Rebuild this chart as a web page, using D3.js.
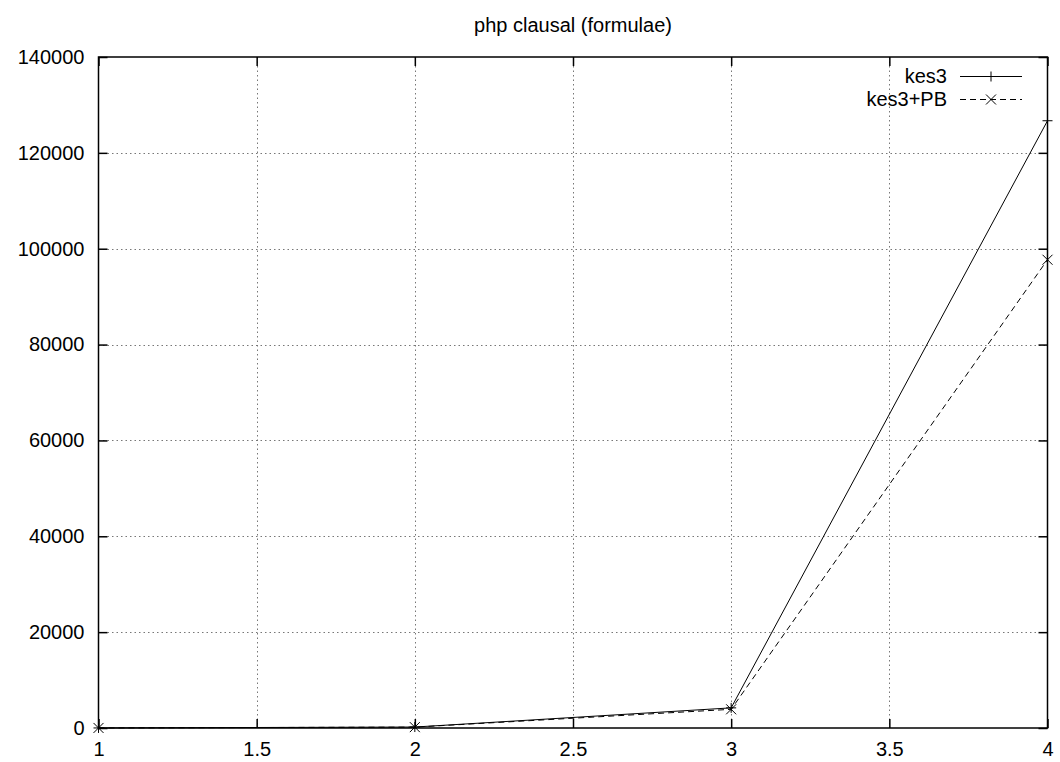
<!DOCTYPE html>
<html><head><meta charset="utf-8">
<script src="https://cdn.jsdelivr.net/npm/d3@7"></script>
<style>body{margin:0;background:#fff}svg{display:block}text{font-family:"Liberation Sans",Arial,sans-serif}</style>
</head><body><svg id="c" width="1060" height="762"></svg>
<script>
const title = "php clausal (formulae)";
const xValues = [1, 2, 3, 4];
const kes3 = [10, 200, 4200, 126700];
const kes3PB = [10, 180, 3900, 97700];
const seriesNames = ["kes3", "kes3+PB"];
const xTicks = [1, 1.5, 2, 2.5, 3, 3.5, 4];
const yTicks = [0, 20000, 40000, 60000, 80000, 100000, 120000, 140000];

const svg = d3.select("#c");
const L = 98.5, R = 1047.5, T = 57, B = 728;
const x = d3.scaleLinear().domain([1, 4]).range([L, R]);
const y = d3.scaleLinear().domain([0, 140000]).range([B, T]);

// grid
const g = svg.append("g");
g.selectAll(".gx").data(xTicks.slice(1, -1)).enter().append("line")
  .attr("x1", d => Math.round(x(d)) + 0.5).attr("x2", d => Math.round(x(d)) + 0.5)
  .attr("y1", T).attr("y2", B)
  .attr("stroke", "#777").attr("stroke-dasharray", "1.5,3");
g.selectAll(".gy").data(yTicks.slice(1, -1)).enter().append("line")
  .attr("y1", d => Math.round(y(d)) + 0.5).attr("y2", d => Math.round(y(d)) + 0.5)
  .attr("x1", L).attr("x2", R)
  .attr("stroke", "#777").attr("stroke-dasharray", "1.5,3");

// axes with mirrored inside ticks
const tl = 9;
const axL = d3.axisLeft(y).tickValues(yTicks).tickSize(-tl).tickPadding(14).tickFormat(d3.format("d"));
const axR = d3.axisRight(y).tickValues(yTicks).tickSize(-tl).tickFormat("");
const axB = d3.axisBottom(x).tickValues(xTicks).tickSize(-tl).tickPadding(14).tickFormat(d => String(d));
const axT = d3.axisTop(x).tickValues(xTicks).tickSize(-tl).tickFormat("");
function style(sel) {
  sel.select(".domain").remove();
  sel.selectAll(".tick line").attr("stroke", "#000").attr("stroke-width", 1.5);
  sel.selectAll(".tick text").attr("font-size", 20).attr("fill", "#000")
    .attr("font-family", '"Liberation Sans",Arial,sans-serif');
}
svg.append("g").attr("transform", `translate(${L},0)`).call(axL).call(style);
svg.append("g").attr("transform", `translate(${R},0)`).call(axR).call(style);
svg.append("g").attr("transform", `translate(0,${B})`).call(axB).call(style);
svg.append("g").attr("transform", `translate(0,${T})`).call(axT).call(style);

// frame
svg.append("rect").attr("x", L).attr("y", T).attr("width", R - L).attr("height", B - T)
  .attr("fill", "none").attr("stroke", "#000").attr("stroke-width", 1.5);

// title
svg.append("text").attr("x", (L + R) / 2).attr("y", 32).attr("text-anchor", "middle")
  .attr("font-size", 20).text(title);

const line = d3.line().x((d, i) => x(xValues[i])).y(d => y(d));
const series = [
  {name: seriesNames[0], values: kes3, dash: null, marker: "plus"},
  {name: seriesNames[1], values: kes3PB, dash: "6,4", marker: "cross"}
];
function marker(sel, type, cx, cy) {
  const s = 5;
  const p = type === "plus"
    ? `M${cx - s},${cy}L${cx + s},${cy}M${cx},${cy - s}L${cx},${cy + s}`
    : `M${cx - s},${cy - s}L${cx + s},${cy + s}M${cx - s},${cy + s}L${cx + s},${cy - s}`;
  sel.append("path").attr("d", p).attr("stroke", "#000").attr("stroke-width", 1).attr("fill", "none");
}
const legY = [76, 99];
series.forEach((s, k) => {
  svg.append("path").attr("d", line(s.values)).attr("fill", "none").attr("stroke", "#000")
    .attr("stroke-width", 1).attr("stroke-dasharray", s.dash);
  s.values.forEach((v, i) => marker(svg, s.marker, x(xValues[i]), y(v)));
  svg.append("text").attr("x", 947).attr("y", legY[k]).attr("dy", "0.35em")
    .attr("text-anchor", "end").attr("font-size", 20).text(s.name);
  svg.append("line").attr("x1", 960).attr("x2", 1022).attr("y1", legY[k] + 0.5).attr("y2", legY[k] + 0.5)
    .attr("stroke", "#000").attr("stroke-dasharray", s.dash);
  marker(svg, s.marker, 991, legY[k] + 0.5);
});
</script></body></html>
